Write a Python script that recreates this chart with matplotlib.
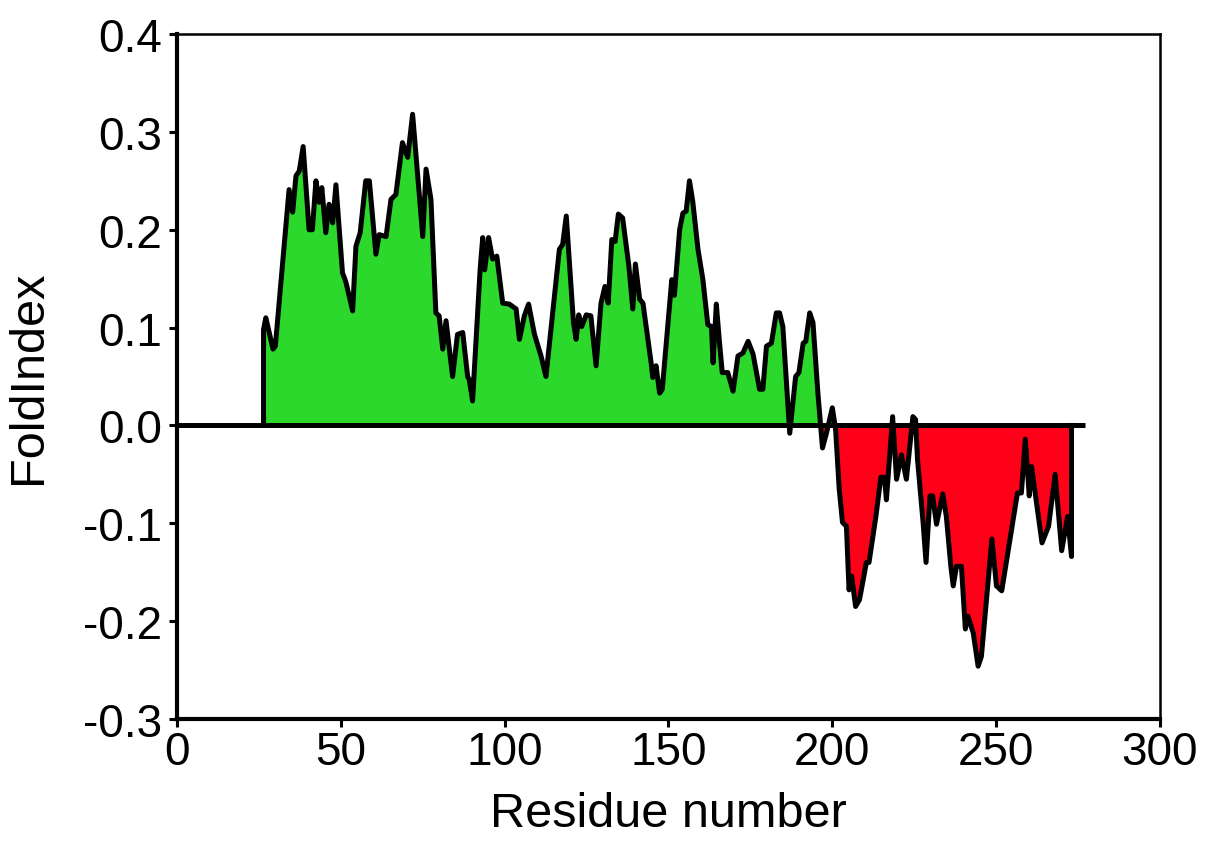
import numpy as np
import matplotlib
matplotlib.use("Agg")
import matplotlib.pyplot as plt

plt.rcParams['font.family'] = ['Liberation Sans', 'DejaVu Sans']
plt.rcParams['axes.unicode_minus'] = False

residue = [26.4, 27.1, 29.3, 30.0, 34.2, 35.3, 36.3, 37.3, 38.5, 40.3, 41.3, 42.4, 43.4, 44.2,
           45.4, 46.4, 47.5, 48.5, 50.5, 51.5, 53.6, 54.6, 55.9, 57.6, 58.7, 60.7, 61.7, 63.8,
           65.3, 66.8, 68.8, 70.4, 71.9, 75.0, 76.0, 77.5, 79.0, 80.0, 81.1, 82.1, 84.1, 85.6,
           87.2, 88.7, 89.2, 90.2, 92.5, 93.3, 93.9, 95.1, 96.3, 97.6, 99.4, 101.4, 103.5, 104.5,
           106.0, 107.3, 109.1, 111.1, 112.6, 116.7, 117.7, 118.8, 121.0, 121.8, 122.6, 123.5,
           124.9, 126.3, 127.9, 129.4, 130.6, 131.6, 132.7, 133.7, 134.7, 136.0, 137.9, 139.1,
           139.9, 141.2, 142.2, 144.7, 145.2, 146.2, 147.3, 148.1, 151.0, 151.8, 153.4, 154.4,
           155.4, 156.4, 157.4, 159.0, 160.5, 162.0, 163.1, 163.6, 164.6, 165.4, 166.4, 168.1,
           169.7, 171.2, 172.7, 174.3, 175.8, 177.8, 178.8, 179.9, 181.4, 182.9, 183.9, 184.9,
           187.0, 188.8, 189.8, 191.1, 191.9, 193.1, 194.1, 195.6, 197.0, 198.2, 200.0, 201.0,
           202.1, 203.1, 204.3, 205.1, 205.9, 207.1, 208.3, 210.4, 211.2, 213.3, 214.8, 215.9,
           216.5, 218.4, 219.6, 221.1, 222.6, 224.6, 225.4, 226.0, 227.7, 228.6, 229.8, 230.6,
           231.8, 233.7, 234.8, 236.2, 236.9, 237.9, 239.4, 240.6, 241.4, 243.0, 244.5, 245.5,
           248.7, 250.1, 251.7, 256.5, 257.7, 258.9, 260.1, 260.8, 264.0, 266.0, 268.0, 270.0,
           271.8, 273.0]
foldindex = [0.098, 0.110, 0.078, 0.081, 0.241, 0.218, 0.255, 0.260, 0.285, 0.200, 0.200, 0.250,
             0.228, 0.243, 0.197, 0.226, 0.207, 0.246, 0.156, 0.147, 0.117, 0.183, 0.197, 0.250,
             0.250, 0.175, 0.195, 0.193, 0.231, 0.236, 0.289, 0.274, 0.318, 0.193, 0.262, 0.231,
             0.115, 0.112, 0.078, 0.107, 0.050, 0.093, 0.095, 0.050, 0.047, 0.025, 0.159, 0.192,
             0.159, 0.192, 0.170, 0.173, 0.125, 0.124, 0.119, 0.088, 0.112, 0.124, 0.093, 0.071,
             0.050, 0.180, 0.185, 0.214, 0.105, 0.088, 0.113, 0.101, 0.113, 0.112, 0.061, 0.125,
             0.142, 0.125, 0.190, 0.188, 0.216, 0.212, 0.163, 0.119, 0.165, 0.129, 0.125, 0.064,
             0.049, 0.061, 0.033, 0.037, 0.149, 0.133, 0.200, 0.217, 0.219, 0.250, 0.229, 0.180,
             0.149, 0.103, 0.101, 0.064, 0.124, 0.091, 0.054, 0.054, 0.035, 0.071, 0.074, 0.086,
             0.073, 0.037, 0.037, 0.081, 0.084, 0.115, 0.115, 0.101, -0.008, 0.050, 0.054, 0.084,
             0.086, 0.115, 0.105, 0.033, -0.023, -0.008, 0.018, -0.004, -0.065, -0.099, -0.103,
             -0.168, -0.154, -0.185, -0.178, -0.140, -0.140, -0.093, -0.053, -0.053, -0.076,
             0.009, -0.055, -0.030, -0.055, 0.009, 0.006, -0.035, -0.099, -0.140, -0.072, -0.072,
             -0.101, -0.070, -0.093, -0.145, -0.164, -0.144, -0.144, -0.208, -0.195, -0.212,
             -0.246, -0.236, -0.116, -0.164, -0.169, -0.069, -0.069, -0.014, -0.072, -0.042,
             -0.120, -0.103, -0.050, -0.128, -0.093, -0.134]

x_ticks = [0, 50, 100, 150, 200, 250, 300]
y_ticks = [-0.3, -0.2, -0.1, 0.0, 0.1, 0.2, 0.3, 0.4]
y_tick_labels = ["-0.3", "-0.2", "-0.1", "0.0", "0.1", "0.2", "0.3", "0.4"]
zero_line_range = [0, 277]

x = np.array(residue)
y = np.array(foldindex)

fig = plt.figure(figsize=(12.2, 8.54), dpi=100)
ax = fig.add_axes([0.1451, 0.1569, 0.8057, 0.8021])

green = '#2bd82b'
red = '#ff0019'
ax.fill_between(x, y, 0, where=y >= 0, interpolate=True, color=green, linewidth=0, zorder=1)
ax.fill_between(x, y, 0, where=y <= 0, interpolate=True, color=red, linewidth=0, zorder=1)
ax.hlines(0, zero_line_range[0], zero_line_range[1], color='black', linewidth=3.6, zorder=2)
xl = np.concatenate([[x[0]], x, [x[-1]]])
yl = np.concatenate([[0.0], y, [0.0]])
ax.plot(xl, yl, color='black', linewidth=3.6, solid_joinstyle='round', zorder=3)

ax.set_xlim(0, 300)
ax.set_ylim(-0.3, 0.4)
ax.set_xticks(x_ticks)
ax.set_yticks(y_ticks)
ax.set_yticklabels(y_tick_labels)

for side in ['left', 'bottom']:
    ax.spines[side].set_linewidth(3.0)
for side in ['top', 'right']:
    ax.spines[side].set_linewidth(1.8)

ax.tick_params(axis='both', direction='out', length=6, width=2.2, labelsize=33, color='black')
ax.tick_params(axis='y', pad=5)
ax.tick_params(axis='x', pad=2)

ax.set_xlabel('Residue number', fontsize=35, labelpad=12)
ax.set_ylabel('FoldIndex', fontsize=35)
ax.yaxis.set_label_coords(-0.128, 0.5)

fig.savefig('out.png', dpi=100)
